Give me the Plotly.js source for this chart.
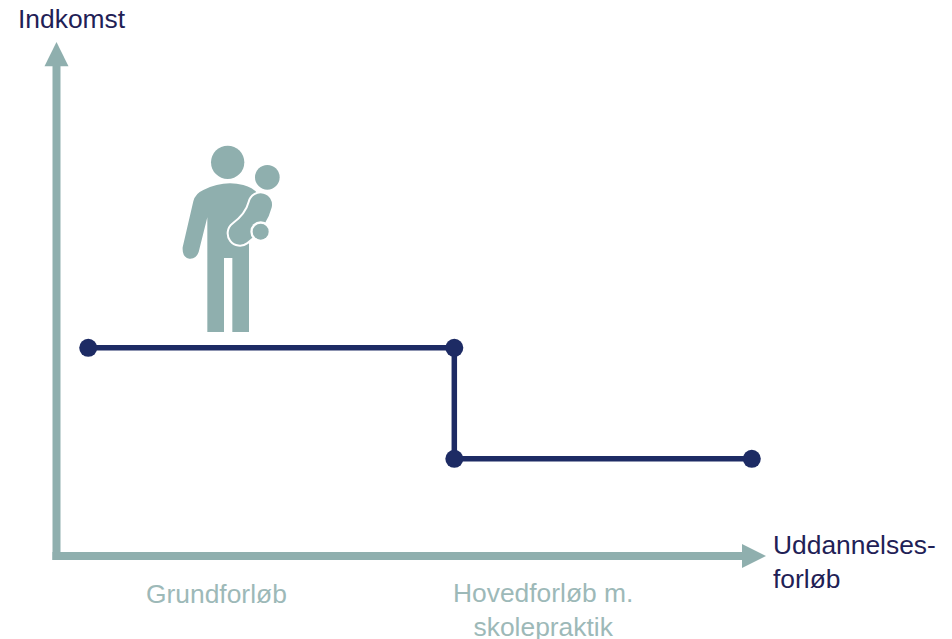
<!DOCTYPE html>
<html>
<head>
<meta charset="utf-8">
<script src="https://cdn.plot.ly/plotly-3.0.1.min.js"></script>
<style>html,body{margin:0;padding:0;background:#fff}#c{width:952px;height:639px}</style>
</head>
<body>
<div id="c"></div>
<script>
// Data
const stepX = [4.54, 56.1, 56.1, 98];
const stepY = [40.5, 40.5, 18.9, 18.9];
const yAxisLabel = "Indkomst";
const xAxisLabel = "Uddannelses-<br>forløb";
const phaseLabels = ["Grundforløb", "Hovedforløb m.<br>skolepraktik"];
const phaseCenters = [0.2255, 0.6858];
const phaseY = [-0.073, -0.1052];

// Style
const teal = "#8FAFAE", navy = "#1D2B64", ink = "#1F2156", soft = "#9DB9B8";
const font = "Liberation Sans, Arial, sans-serif";
const fs = 26.4;

const icon = `<svg xmlns="http://www.w3.org/2000/svg" width="420" height="660" viewBox="0 0 420 660">
<defs><filter id="b" x="-5%" y="-5%" width="110%" height="110%"><feGaussianBlur stdDeviation="1.6"/></filter></defs>
<g filter="url(#b)">
<g fill="${teal}">
<circle cx="203" cy="97" r="50"/>
<path d="M142 606 L142 262 L116 366 Q108 388 88 386 Q66 382 68 352 L100 214 Q106 190 130 180 Q190 150 250 165 Q278 172 292 190 L267 300 L267 606 L217 606 L217 384 L192 384 L192 606 Z"/>
</g>
<path d="M302 224 Q290 272 240 310" fill="none" stroke="#fff" stroke-width="80" stroke-linecap="round"/>
<rect x="267" y="350" width="60" height="60" fill="#fff"/>
<path d="M302 224 Q290 272 240 310" fill="none" stroke="${teal}" stroke-width="68" stroke-linecap="round"/>
<circle cx="302" cy="305" r="31" fill="#fff"/>
<circle cx="302" cy="305" r="24" fill="${teal}"/>
<circle cx="322" cy="142" r="37" fill="${teal}"/>
</g>
</svg>`;

const trace = {
  x: stepX, y: stepY, type: "scatter", mode: "lines+markers", cliponaxis: false,
  line: {color: navy, width: 5.5},
  marker: {color: navy, size: 18},
  hoverinfo: "skip", showlegend: false
};

const ann = (text, x, y, color, anchor) => ({
  text, x, y, xref: "paper", yref: "paper", showarrow: false,
  xanchor: anchor || "center", yanchor: "middle",
  align: anchor === "left" ? "left" : "center",
  font: {family: font, size: fs, color}
});

const layout = {
  width: 952, height: 639,
  margin: {l: 56, r: 186, t: 42, b: 83},
  paper_bgcolor: "#fff", plot_bgcolor: "#fff",
  showlegend: false,
  xaxis: {range: [0, 100], visible: false, fixedrange: true},
  yaxis: {range: [0, 100], visible: false, fixedrange: true},
  shapes: [
    {type: "line", xref: "paper", yref: "paper", x0: -0.005, y0: 0, x1: 0.97, y1: 0, line: {color: teal, width: 8}, layer: "below"},
    {type: "line", xref: "paper", yref: "paper", x0: 0.0007, y0: -0.008, x1: 0.0007, y1: 0.96, line: {color: teal, width: 8}, layer: "below"},
    {type: "path", xref: "paper", yref: "paper", path: "M 0.9662 0.0233 L 1 0 L 0.9662 -0.0233 Z", fillcolor: teal, line: {width: 0}, layer: "below"},
    {type: "path", xref: "paper", yref: "paper", path: "M -0.0162 0.953 L 0.0007 1 L 0.0176 0.953 Z", fillcolor: teal, line: {width: 0}, layer: "below"}
  ],
  images: [{
    source: "data:image/svg+xml;charset=utf-8," + encodeURIComponent(icon),
    xref: "paper", yref: "paper",
    x: (160 - 56) / 710, y: (556 - 130) / 514,
    sizex: 140 / 710, sizey: 220 / 514,
    xanchor: "left", yanchor: "top", sizing: "stretch", layer: "above"
  }],
  annotations: [
    ann(yAxisLabel, 0.0225, 1.0445, ink),
    ann(xAxisLabel, 1.0068, -0.0125, ink, "left"),
    ann(phaseLabels[0], phaseCenters[0], phaseY[0], soft),
    ann(phaseLabels[1], phaseCenters[1], phaseY[1], soft)
  ]
};

Plotly.newPlot("c", [trace], layout, {displayModeBar: false, responsive: false});
</script>
</body>
</html>
